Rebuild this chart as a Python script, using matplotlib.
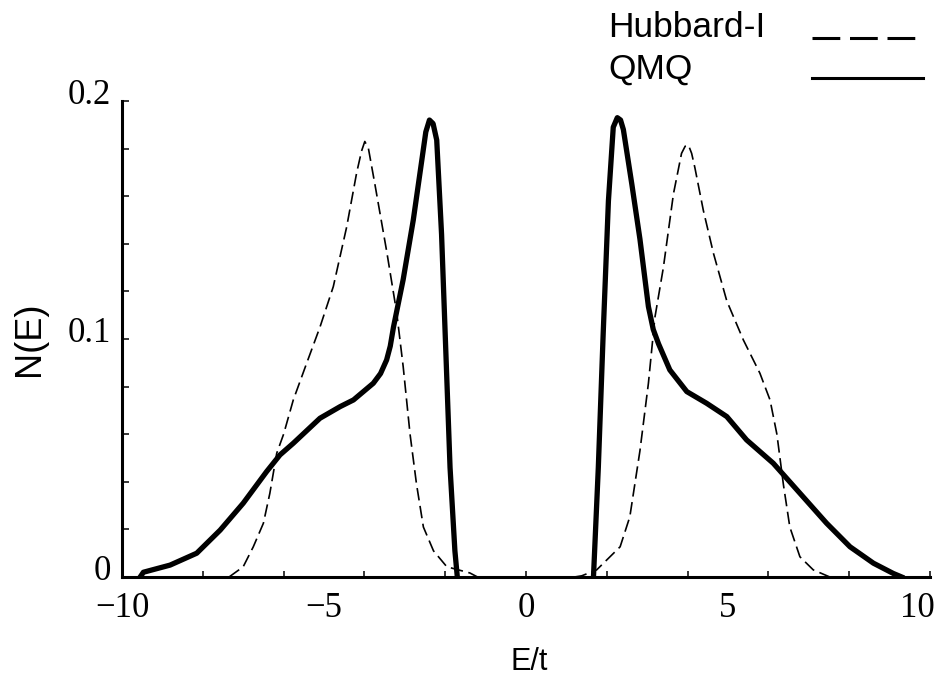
import matplotlib
matplotlib.use("Agg")
import matplotlib.pyplot as plt
import matplotlib.transforms as mtransforms
from matplotlib.lines import Line2D
import numpy as np

plt.rcParams['lines.scale_dashes'] = False

# QMQ, lower and upper band
qmq_lo_E = [-9.55, -9.47, -8.81, -8.15, -7.57, -7.0, -6.42, -6.09, -5.76, -5.10, -4.60, -4.27,
            -3.78, -3.60, -3.45, -3.36, -3.28, -3.04, -2.79, -2.58, -2.48, -2.39, -2.30, -2.21,
            -2.09, -2.0, -1.88, -1.76, -1.70]
qmq_lo_N = [0.0, 0.002, 0.005, 0.010, 0.0197, 0.031, 0.0443, 0.0513, 0.0562, 0.0667, 0.0716, 0.0744,
            0.0814, 0.0855, 0.0912, 0.097, 0.105, 0.125, 0.150, 0.175, 0.187, 0.192, 0.1905, 0.1836,
            0.144, 0.102, 0.046, 0.011, 0.0]
qmq_hi_E = [1.67, 1.79, 1.91, 2.04, 2.16, 2.26, 2.34, 2.41, 2.62, 2.82, 3.03, 3.15, 3.28, 3.56, 3.98,
            4.47, 4.97, 5.46, 6.12, 6.78, 7.44, 8.02, 8.60, 9.09, 9.30]
qmq_hi_N = [0.0, 0.046, 0.102, 0.158, 0.189, 0.193, 0.192, 0.188, 0.165, 0.142, 0.1136, 0.104, 0.098,
            0.087, 0.0779, 0.073, 0.0674, 0.0576, 0.0478, 0.0352, 0.0226, 0.0127, 0.0058, 0.0015, 0.0]

# Hubbard-I
hub_lo_E = [-7.35, -7.0, -6.75, -6.5, -6.34, -6.17, -6.0, -5.76, -5.43, -5.10, -4.77, -4.44, -4.19,
            -4.07, -3.99, -3.90, -3.74, -3.45, -3.20, -3.04, -2.87, -2.71, -2.54, -2.29, -1.96, -1.39, -1.2]
hub_lo_N = [0.0, 0.0043, 0.0127, 0.0226, 0.0352, 0.052, 0.060, 0.0744, 0.0898, 0.105, 0.122, 0.147,
            0.170, 0.179, 0.183, 0.180, 0.165, 0.137, 0.111, 0.0884, 0.060, 0.039, 0.021, 0.011, 0.0043,
            0.0017, 0.0]
hub_hi_E = [1.2, 1.38, 1.75, 2.33, 2.57, 2.82, 3.03, 3.19, 3.40, 3.65, 3.85, 3.94, 4.02, 4.10, 4.18,
            4.39, 4.64, 4.97, 5.38, 5.79, 6.04, 6.21, 6.37, 6.53, 6.78, 7.11, 7.52]
hub_hi_N = [0.0, 0.0005, 0.003, 0.0127, 0.0253, 0.053, 0.0814, 0.109, 0.130, 0.161, 0.178, 0.181,
            0.1815, 0.178, 0.172, 0.154, 0.136, 0.116, 0.0996, 0.0856, 0.0744, 0.060, 0.039, 0.021,
            0.0085, 0.003, 0.0]

xlabels = ['\u221210', '\u22125', '0', '5', '10']
xlabel_pos = [-10, -5, 0, 5, 10]
ylabels = ['0', '0.1', '0.2']
ylabel_pos = [0, 0.1, 0.2]

W, H = 943, 684
fig = plt.figure(figsize=(W / 100, H / 100), dpi=100)
ax = fig.add_axes([122 / W, 1 - 577 / H, (930 - 122) / W, (577 - 101) / H])

for E, N in [(hub_lo_E, hub_lo_N), (hub_hi_E, hub_hi_N)]:
    ax.plot(E, N, color='black', lw=1.2, dashes=(9, 4), solid_capstyle='butt')
for E, N in [(qmq_lo_E, qmq_lo_N), (qmq_hi_E, qmq_hi_N)]:
    ax.plot(E, N, color='black', lw=3.8, solid_joinstyle='round')

ax.set_xlim(-10, 10)
ax.set_ylim(0, 0.2)
for s in ['top', 'right']:
    ax.spines[s].set_visible(False)
for s in ['left', 'bottom']:
    ax.spines[s].set_linewidth(2.2)

serif = 'Liberation Serif'
ax.set_xticks(xlabel_pos)
ax.set_xticklabels(xlabels, fontfamily=serif, fontsize=25)
ax.set_xticks(np.arange(-10, 11, 2), minor=True)
ax.xaxis.remove_overlapping_locs = False
ax.tick_params(axis='x', which='major', length=0, pad=11)
ax.tick_params(axis='x', which='minor', direction='in', length=4.5, width=1.1)

ax.set_yticks(ylabel_pos)
ax.set_yticklabels(ylabels, fontfamily=serif, fontsize=25)
ax.set_yticks(np.arange(0, 0.201, 0.02), minor=True)
ax.tick_params(axis='y', which='both', direction='in', length=5, width=1.1, pad=8)

# labels sit a little above their ticks in the original
up = mtransforms.ScaledTranslation(0, 10 / 100, fig.dpi_scale_trans)
for lab in ax.get_yticklabels():
    lab.set_transform(lab.get_transform() + up)
last = ax.get_xticklabels()[-1]
last.set_transform(last.get_transform() + mtransforms.ScaledTranslation(-13 / 100, 0, fig.dpi_scale_trans))

sans = 'Liberation Sans'
ax.set_xlabel('E/t', fontfamily=sans, fontsize=22, va='center')
ax.xaxis.set_label_coords((529 - 122) / 808, (577 - 662) / 476)
ax.set_ylabel('N(E)', fontfamily=sans, fontsize=26, va='center')
ax.yaxis.set_label_coords((30 - 122) / 808, 0.5)

# legend drawn by hand: text on the left, line sample on the right
fig.text(608 / W, 1 - 37 / H, 'Hubbard-I', fontfamily=sans, fontsize=25.5, va='baseline', ha='left')
fig.text(608 / W, 1 - 79 / H, 'QMQ', fontfamily=sans, fontsize=25.5, va='baseline', ha='left')
fig.add_artist(Line2D([812 / W, 923 / W], [1 - 38 / H, 1 - 38 / H], transform=fig.transFigure,
                      color='black', lw=2.2, dashes=(20, 7)))
fig.add_artist(Line2D([812 / W, 923 / W], [1 - 78 / H, 1 - 78 / H], transform=fig.transFigure,
                      color='black', lw=2.2))

fig.savefig('out.png', dpi=100)
